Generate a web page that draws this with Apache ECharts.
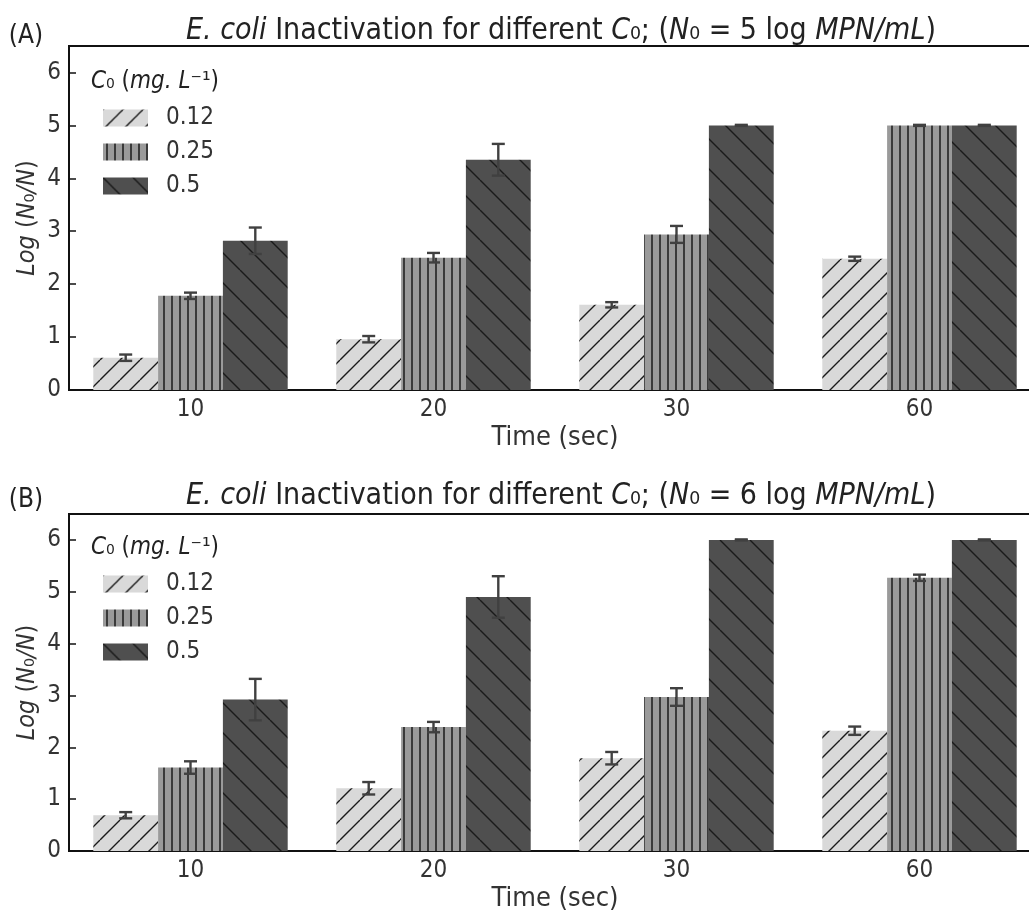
<!DOCTYPE html>
<html>
<head>
<meta charset="utf-8">
<script src="https://cdn.jsdelivr.net/npm/echarts@6/dist/echarts.min.js"></script>
<style>
html, body { margin: 0; padding: 0; background: #fff; overflow: hidden; }
#chart { width: 1041px; height: 913px; }
</style>
</head>
<body>
<div id="chart"></div>
<script>
var times = ['10', '20', '30', '60'];
var doses = ['0.12', '0.25', '0.5'];
var yTicks = [0, 1, 2, 3, 4, 5, 6];

// panel A, N0 = 5 log
var meanA012 = [0.61, 0.96, 1.61, 2.48];
var meanA025 = [1.78, 2.50, 2.94, 5.00];
var meanA05 = [2.82, 4.35, 5.00, 5.00];
var errA012 = [0.06, 0.06, 0.05, 0.04];
var errA025 = [0.06, 0.09, 0.16, 0.01];
var errA05 = [0.25, 0.30, 0.01, 0.01];

// panel B, N0 = 6 log
var meanB012 = [0.69, 1.21, 1.79, 2.32];
var meanB025 = [1.61, 2.39, 2.97, 5.27];
var meanB05 = [2.92, 4.90, 6.00, 6.00];
var errB012 = [0.06, 0.12, 0.12, 0.08];
var errB025 = [0.12, 0.10, 0.17, 0.06];
var errB05 = [0.40, 0.40, 0.01, 0.01];

var FONT = '"DejaVu Sans Condensed", "DejaVu Sans", sans-serif';

function hatch(kind) {
    var c = document.createElement('canvas');
    var ctx;
    var s, k;
    if (kind === 'vert') {
        c.width = 8; c.height = 8;
        ctx = c.getContext('2d');
        ctx.fillStyle = '#9a9a9a';
        ctx.fillRect(0, 0, 8, 8);
        ctx.fillStyle = '#3a3a3a';
        ctx.fillRect(3, 0, 2, 8);
        return c;
    }
    s = kind === 'fwd' ? 20 : 30;
    c.width = s; c.height = s;
    ctx = c.getContext('2d');
    ctx.fillStyle = kind === 'fwd' ? '#d9d9d9' : '#4f4f4f';
    ctx.fillRect(0, 0, s, s);
    ctx.strokeStyle = '#1a1a1a';
    ctx.lineWidth = 1.4;
    ctx.beginPath();
    for (k = -1; k <= 1; k++) {
        if (kind === 'fwd') {
            ctx.moveTo(k * s, s);
            ctx.lineTo(k * s + s, 0);
        } else {
            ctx.moveTo(k * s, 0);
            ctx.lineTo(k * s + s, s);
        }
    }
    ctx.stroke();
    return c;
}

var fills = [
    { image: hatch('fwd'), repeat: 'repeat' },
    { image: hatch('vert'), repeat: 'repeat' },
    { image: hatch('back'), repeat: 'repeat' }
];

function errorItem(k) {
    return function (params, api) {
        var band = api.size([1, 0])[0];
        var bw = band * 0.8 / 3;
        var i = api.value(0), v = api.value(1), e = api.value(2);
        var x = api.coord([i, v])[0] + (k - 1) * bw;
        var hi = api.coord([i, v + e])[1];
        var lo = api.coord([i, v - e])[1];
        var cap = 6.5;
        var st = { stroke: '#404040', lineWidth: 2.4 };
        return {
            type: 'group',
            children: [
                { type: 'line', shape: { x1: x, y1: hi, x2: x, y2: lo }, style: st },
                { type: 'line', shape: { x1: x - cap, y1: hi, x2: x + cap, y2: hi }, style: st },
                { type: 'line', shape: { x1: x - cap, y1: lo, x2: x + cap, y2: lo }, style: st }
            ]
        };
    };
}

function errData(means, errs) {
    return means.map(function (m, i) { return [i, m, errs[i]]; });
}

var panels = [
    { means: [meanA012, meanA025, meanA05], errs: [errA012, errA025, errA05] },
    { means: [meanB012, meanB025, meanB05], errs: [errB012, errB025, errB05] }
];

var series = [];
panels.forEach(function (p, g) {
    doses.forEach(function (d, k) {
        series.push({
            name: d,
            type: 'bar',
            xAxisIndex: g,
            yAxisIndex: g,
            data: p.means[k],
            barGap: 0,
            barCategoryGap: '20%',
            itemStyle: { color: fills[k] },
            emphasis: { disabled: true },
            z: 2
        });
    });
    doses.forEach(function (d, k) {
        series.push({
            name: 'err' + g + '_' + d,
            type: 'custom',
            xAxisIndex: g,
            yAxisIndex: g,
            data: errData(p.means[k], p.errs[k]),
            encode: { x: 0, y: 1 },
            renderItem: errorItem(k),
            z: 5
        });
    });
});

var rich = {
    i: { fontFamily: FONT, fontStyle: 'italic', fontSize: 30, color: '#222' }
};
var richName = {
    i: { fontFamily: FONT, fontStyle: 'italic', fontSize: 25, color: '#333' }
};
var richLeg = {
    i: { fontFamily: FONT, fontStyle: 'italic', fontSize: 24, color: '#333' }
};

function xAxis(g) {
    return {
        type: 'category',
        gridIndex: g,
        data: times,
        axisLine: { lineStyle: { color: '#111', width: 2 } },
        axisTick: { show: false },
        axisLabel: { fontFamily: FONT, fontSize: 24, color: '#333', margin: 8 },
        name: 'Time (sec)',
        nameLocation: 'middle',
        nameGap: 34,
        nameMoveOverlap: false,
        nameTextStyle: { fontFamily: FONT, fontSize: 27, color: '#333' }
    };
}

function yAxis(g) {
    return {
        type: 'value',
        gridIndex: g,
        min: 0,
        max: 6.5,
        interval: 1,
        splitLine: { show: false },
        axisLine: { show: true, lineStyle: { color: '#111', width: 2 } },
        axisTick: { show: true, inside: true, length: 7, lineStyle: { color: '#111', width: 1.5 } },
        axisLabel: {
            fontFamily: FONT, fontSize: 24, color: '#333', margin: 8, showMaxLabel: false,
            formatter: function (v) { return yTicks.indexOf(v) >= 0 ? String(v) : ''; }
        },
        name: '{i|Log} ({i|N}\u2080{i|/N})',
        nameLocation: 'middle',
        nameGap: 29,
        nameMoveOverlap: false,
        nameTextStyle: { fontFamily: FONT, fontSize: 25, color: '#333', rich: richName }
    };
}

function legend(top) {
    return {
        top: top,
        left: 103,
        padding: 0,
        orient: 'vertical',
        itemWidth: 45,
        itemHeight: 17,
        itemGap: 10,
        selectedMode: false,
        data: doses,
        icon: 'rect',
        textStyle: { fontFamily: FONT, fontSize: 24, color: '#333', padding: [0, 0, 0, 13] }
    };
}

function txt(x, y, text, size, align, r) {
    return {
        type: 'text',
        x: x,
        y: y,
        style: {
            text: text,
            fontFamily: FONT,
            fontSize: size,
            fill: '#222',
            align: align,
            verticalAlign: 'middle',
            rich: r
        },
        z: 10
    };
}

var chart = echarts.init(document.getElementById('chart'));
chart.setOption({
    backgroundColor: '#fff',
    animation: false,
    grid: [
        { left: 69, right: 0, top: 46, height: 344, show: true, borderColor: '#111', borderWidth: 2 },
        { left: 69, right: 0, top: 514, height: 343, show: true, borderColor: '#111', borderWidth: 2 }
    ],
    xAxis: [xAxis(0), xAxis(1)],
    yAxis: [yAxis(0), yAxis(1)],
    legend: [legend(106), legend(572)],
    graphic: [
        txt(26, 36, '(A)', 26, 'center'),
        txt(26, 500, '(B)', 26, 'center'),
        txt(561, 31, '{i|E. coli} Inactivation for different {i|C}\u2080; ({i|N}\u2080 = 5 log {i|MPN/mL})', 30, 'center', rich),
        txt(561, 496, '{i|E. coli} Inactivation for different {i|C}\u2080; ({i|N}\u2080 = 6 log {i|MPN/mL})', 30, 'center', rich),
        txt(91, 82, '{i|C}\u2080 ({i|mg. L}\u207b\u00b9)', 24, 'left', richLeg),
        txt(91, 548, '{i|C}\u2080 ({i|mg. L}\u207b\u00b9)', 24, 'left', richLeg)
    ],
    series: series
});
</script>
</body>
</html>
